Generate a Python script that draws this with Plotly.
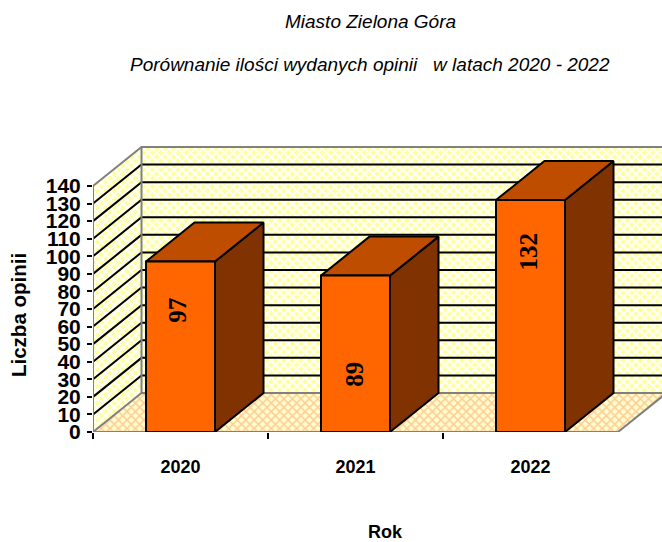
import plotly.graph_objects as go

# Chart data
years = ["2020", "2021", "2022"]
opinions = [97, 89, 132]
value_ticks = list(range(0, 150, 10))
label_heights = [69, 33, 103]
label_x_shift = [-0.014, -0.01, -0.012]

# Projection of the 3D box: depth offset in axis units
AXIS_MAX = 140
DEPTH_X = 48.5 / 175
DEPTH_Y = 39 / (246 / 140)
BAR_WIDTH = 69 / 175

FRONT, TOP, SIDE = "#FF6600", "#BF4D00", "#803300"
GREY = "#808080"

fig = go.Figure()


def polygon(xs, ys, fill=None, line="rgba(0,0,0,0)", width=0, pattern=None):
    fig.add_trace(go.Scatter(
        x=xs + xs[:1], y=ys + ys[:1], mode="lines", fill="toself",
        fillcolor=fill, fillpattern=pattern,
        line=dict(color=line, width=width), hoverinfo="skip", showlegend=False,
    ))


wall_pattern = dict(shape="x", size=6, solidity=0.55, fgcolor="#FFFFFF", bgcolor="#FFFF99", fillmode="replace")
floor_pattern = dict(shape="x", size=6, solidity=0.45, fgcolor="#FFCC99", bgcolor="#FFFFCC", fillmode="replace")

# Side wall, back wall and floor
polygon([0, DEPTH_X, DEPTH_X, 0], [0, DEPTH_Y, AXIS_MAX + DEPTH_Y, AXIS_MAX], pattern=wall_pattern)
polygon([DEPTH_X, 3 + DEPTH_X, 3 + DEPTH_X, DEPTH_X],
        [DEPTH_Y, DEPTH_Y, AXIS_MAX + DEPTH_Y, AXIS_MAX + DEPTH_Y], pattern=wall_pattern)
polygon([0, 3, 3 + DEPTH_X, DEPTH_X], [0, 0, DEPTH_Y, DEPTH_Y], pattern=floor_pattern)

# Gridlines wrapping the side and back walls
grid_x, grid_y = [], []
for v in value_ticks[1:-1]:
    grid_x += [0, DEPTH_X, 3 + DEPTH_X, None]
    grid_y += [v, v + DEPTH_Y, v + DEPTH_Y, None]
fig.add_trace(go.Scatter(x=grid_x, y=grid_y, mode="lines", line=dict(color="#000000", width=2),
                         hoverinfo="skip", showlegend=False))

# Grey frame of the walls and floor
frame_x = [0, 0, DEPTH_X, 3 + DEPTH_X, None, 0, DEPTH_X, 3 + DEPTH_X, None, DEPTH_X, DEPTH_X, None,
           3 + DEPTH_X, 3, 0]
frame_y = [0, AXIS_MAX, AXIS_MAX + DEPTH_Y, AXIS_MAX + DEPTH_Y, None, 0, DEPTH_Y, DEPTH_Y, None,
           DEPTH_Y, AXIS_MAX + DEPTH_Y, None, DEPTH_Y, 0, 0]
fig.add_trace(go.Scatter(x=frame_x, y=frame_y, mode="lines", line=dict(color=GREY, width=2),
                         hoverinfo="skip", showlegend=False))

# Bars as projected boxes
for i, v in enumerate(opinions):
    x0 = i + 0.5 - BAR_WIDTH / 2
    x1 = i + 0.5 + BAR_WIDTH / 2
    polygon([x1, x1 + DEPTH_X, x1 + DEPTH_X, x1], [0, DEPTH_Y, v + DEPTH_Y, v], fill=SIDE, line="#000000", width=2)
    polygon([x0, x1, x1 + DEPTH_X, x0 + DEPTH_X], [v, v, v + DEPTH_Y, v + DEPTH_Y], fill=TOP, line="#000000", width=2)
    polygon([x0, x1, x1, x0], [0, 0, v, v], fill=FRONT, line="#000000", width=2)
    fig.add_annotation(x=i + 0.5 + label_x_shift[i], y=label_heights[i], text=f"<b>{v}</b>", textangle=-90,
                       showarrow=False, font=dict(family="Liberation Serif", size=25, color="#000000"))

SANS = "Liberation Sans"
fig.update_layout(
    width=662, height=542, paper_bgcolor="#FFFFFF", plot_bgcolor="rgba(0,0,0,0)",
    margin=dict(l=93, r=0, t=140, b=110), showlegend=False, autosize=False,
    font=dict(family=SANS, color="#000000"),
    xaxis=dict(
        range=[0, 569 / 175], tickmode="array", tickvals=[0.5, 1.5, 2.5],
        ticktext=[f"<b>{y}</b>" for y in years], ticks="", ticklabelstandoff=22,
        tickfont=dict(family=SANS, size=18), showgrid=False, zeroline=False, showline=False,
        minor=dict(tickmode="array", tickvals=[0, 1, 2], ticks="outside", ticklen=6, tickwidth=2,
                   tickcolor="#000000", showgrid=False),
    ),
    yaxis=dict(
        range=[0, 292 / (246 / 140)], tickmode="array", tickvals=value_ticks,
        ticktext=[f"<b>{v}</b>" for v in value_ticks], ticks="outside", ticklen=5, tickwidth=2,
        tickcolor="#000000", tickfont=dict(family=SANS, size=21), showgrid=False, zeroline=False,
        showline=False, ticklabelstandoff=2,
    ),
)

page_text = [
    ("<i>Miasto Zielona Góra</i>", 370, 22, 19, 0),
    ("<i>Porównanie ilości wydanych opinii   w latach 2020 - 2022</i>", 370, 64, 19, 0),
    ("<b>Rok</b>", 385, 532, 18, 0),
    ("<b>Liczba opinii</b>", 18, 315, 20.5, -90),
]
for text, px, py, size, angle in page_text:
    fig.add_annotation(xref="paper", yref="paper", x=(px - 93) / 569, y=1 - (py - 140) / 292, text=text,
                       xanchor="center", yanchor="middle", showarrow=False, textangle=angle,
                       font=dict(size=size, family=SANS))

fig.write_html("out.html")
